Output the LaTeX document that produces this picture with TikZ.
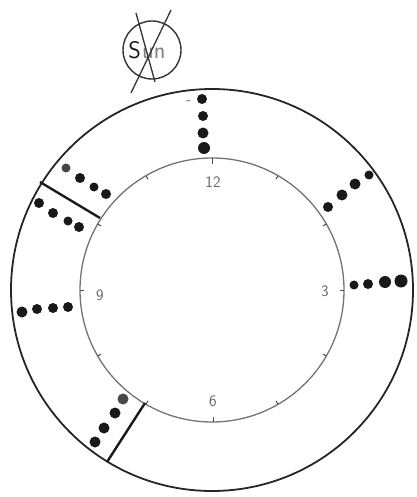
\documentclass[tikz,border=0pt]{standalone}
\usetikzlibrary{calc}
\begin{document}
\begin{tikzpicture}[x=1pt,y=-1pt,
  dot/.style={fill=black!90,draw=none},
  greydot/.style={fill=black!72,draw=none},
  sep/.style={line width=2.4pt,black!90},
  tick/.style={line width=1pt,black!70},
  num/.style={font=\sffamily\fontsize{16}{16}\selectfont,text=black!60,inner sep=0pt},
  suntext/.style={font=\sffamily\fontsize{24}{24}\selectfont,inner sep=0pt}]
\useasboundingbox (0,0) rectangle (416,497);
\coordinate (C) at (212,290);
% outer and inner circles
\draw[line width=1.8pt,black!85] (C) circle[radius=201];
\draw[line width=1.3pt,black!55] (C) circle[radius=132];
% hour ticks
\foreach \h in {1,2,3,4,5,7,8,9,10,11}{
  \draw[tick] ($(C)+({132*cos(90-30*\h)},{-132*sin(90-30*\h)})$) -- ($(C)+({128*cos(90-30*\h)},{-128*sin(90-30*\h)})$);
}
\draw[tick] ($(C)+(0,-132)$) -- ($(C)+(0,-126)$);
\draw[tick] ($(C)+(1,132)$) -- ($(C)+(1,127)$);
% numerals
\node[num] (n12) at (213,182) {12};
\node[num] (n9) at (100,295) {9};
\node[num] (n3) at (325,291) {3};
\node[num] (n6) at (213,401) {6};
% top group
\fill[dot] (202,99) circle[radius=5];
\fill[dot] (203,116) circle[radius=5];
\fill[dot] (203,133) circle[radius=5.5];
\fill[dot] (204,148) circle[radius=6];
\draw[line width=0.8pt,black!60] (186,101) -- (190,100.5);
% upper right group
\fill[dot] (328,207) circle[radius=5];
\fill[dot] (342,195) circle[radius=5.5];
\fill[dot] (355,184) circle[radius=5.5];
\fill[dot] (369,175) circle[radius=4.5];
% right group
\fill[dot] (354,285) circle[radius=4.5];
\fill[dot] (368,284) circle[radius=5];
\fill[dot] (385,282) circle[radius=6];
\fill[dot] (401,281) circle[radius=6.5];
% left group
\fill[dot] (22,312) circle[radius=5.5];
\fill[dot] (37,309) circle[radius=5];
\fill[dot] (53,308) circle[radius=5];
\fill[dot] (68,307) circle[radius=5];
% upper left groups
\fill[greydot] (66,168) circle[radius=4.5];
\fill[dot] (80,178) circle[radius=5];
\fill[dot] (94,187) circle[radius=4.5];
\fill[dot] (106,194) circle[radius=5];
\fill[dot] (39,203) circle[radius=5];
\fill[dot] (53,213) circle[radius=5];
\fill[dot] (68,221) circle[radius=4.5];
\fill[dot] (79,227) circle[radius=5];
\coordinate (s1a) at (40,182);
\coordinate (s1b) at (100,218);
\draw[sep] (s1a) -- (s1b);
% lower left group
\fill[greydot] (123,399) circle[radius=5.5];
\fill[dot] (115,413) circle[radius=5.5];
\fill[dot] (104,428) circle[radius=5.5];
\fill[dot] (95,442) circle[radius=5.5];
\coordinate (s2a) at (145,403);
\coordinate (s2b) at (107,462);
\draw[sep] (s2a) -- (s2b);
% Sun crossed out
\draw[line width=1.4pt,black!80] (152,50) circle[radius=29];
\node[suntext,text=black!90,anchor=base east] (sS) at (141,59) {S};
\node[suntext,text=black!50,anchor=base west] (sun) at (142,59) {un};
\coordinate (l1a) at (171,10);
\coordinate (l1b) at (131,93);
\coordinate (l2a) at (136,13);
\coordinate (l2b) at (155,82);
\draw[line width=1.3pt,black!80] (l1a) -- (l1b);
\draw[line width=1.3pt,black!80] (l2a) -- (l2b);
\end{tikzpicture}
\end{document}
